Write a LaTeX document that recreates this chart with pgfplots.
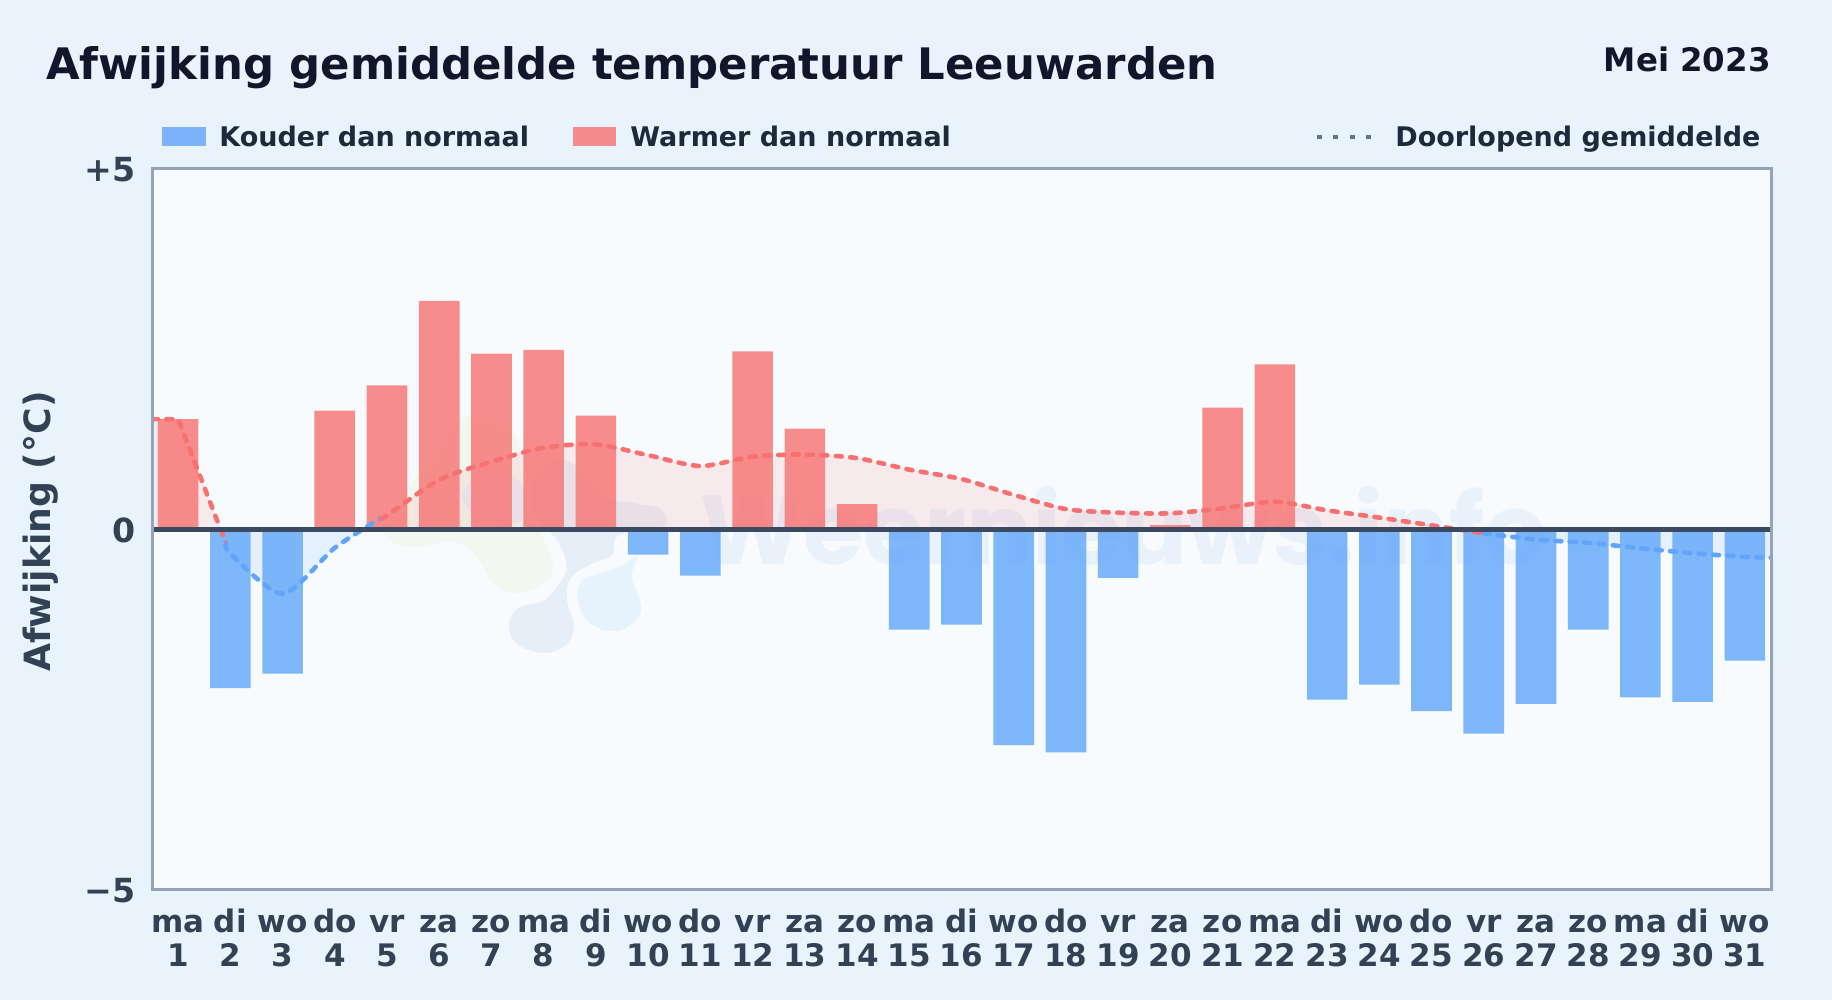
\documentclass[border=0pt]{standalone}
\usepackage{fontspec}
\setmainfont{DejaVu Sans}
\newfontfamily\wmfont{Poppins}
\usepackage{pgfplots}
\pgfplotsset{compat=1.18}

\definecolor{pagebg}{HTML}{E8F3FC}
\definecolor{plotbg}{HTML}{F7FBFE}
\definecolor{frame}{HTML}{94A3B8}
\definecolor{titlecol}{HTML}{0F172A}
\definecolor{legendcol}{HTML}{1E293B}
\definecolor{tickcol}{HTML}{334155}
\definecolor{zerocol}{HTML}{3B4A60}
\definecolor{dotcol}{HTML}{64748B}
\definecolor{coldcol}{HTML}{60A5FA}
\definecolor{warmcol}{HTML}{F87171}
\definecolor{logogrey}{HTML}{E6EFF8}
\definecolor{logoblue}{HTML}{E6F3FD}
\definecolor{logogreen}{HTML}{F2F8F0}
\definecolor{wmcol}{HTML}{E9F2FB}

\newcommand\daglabel[2]{\rule{0pt}{13pt}#1\\#2}

\pgfplotsset{
  runmean/.style={smooth, tension=0.45, line width=2.3pt, dash pattern=on 3pt off 4.2pt, line cap=round},
  meanfill/.style={smooth, tension=0.45, draw=none, fill opacity=0.12},
  dagbar/.style={ybar, bar width=20.3pt, bar shift=0pt, draw=none, fill opacity=0.8},
}

\begin{document}
\begin{tikzpicture}
% pagina en plotvlak, coordinaten in pixels van het origineel
\begin{scope}[x=0.5pt,y=-0.5pt,shift={(0pt,500pt)}]
  \fill[pagebg] (0,0) rectangle (1832,1000);
  \fill[plotbg] (152,169) rectangle (1771,890);
  % logo
  \fill[logogreen] plot[smooth cycle, tension=0.7] coordinates {(463,417)(513,433)(522,480)(535,520)(553,567)(537,587)(513,593)(493,583)(477,557)(453,542)(413,547)(390,540)(385,522)(405,490)(440,450)};
  \fill[logoblue] plot[smooth cycle, tension=0.7] coordinates {(637,557)(632,577)(641,607)(633,623)(613,631)(590,623)(578,600)(583,580)(603,573)(623,565)};
  \filldraw[fill=logogrey, draw=plotbg, line width=3pt] plot[smooth cycle, tension=0.6] coordinates {(570,458)(603,493)(633,500)(663,507)(668,527)(637,533)(618,540)(615,557)(590,568)(573,580)(570,600)(577,627)(567,648)(542,656)(513,645)(506,623)(517,605)(543,597)(563,570)(555,543)(537,523)(527,500)(537,470)};
  \fill[logogrey] plot[smooth cycle, tension=0.7] coordinates {(463,493)(483,475)(513,477)(527,500)(517,523)(483,520)(467,507)};
  % watermerk
  \node[anchor=base west, inner sep=0pt, text=wmcol] at (700,565) {\wmfont\bfseries\fontsize{49}{49}\selectfont Weernieuws.info};
  % titel
  \node[anchor=base west, inner sep=0pt, text=titlecol] at (46,80) {\bfseries\fontsize{21.7}{26}\selectfont Afwijking gemiddelde temperatuur Leeuwarden};
  \node[anchor=base east, inner sep=0pt, text=titlecol] at (1771,72) {\bfseries\fontsize{16.2}{19}\selectfont Mei 2023};
  % legenda
  \fill[coldcol, opacity=0.8] (162,127) rectangle (206,146);
  \node[anchor=base west, inner sep=0pt, text=legendcol] at (219,147) {\bfseries\fontsize{13.5}{16}\selectfont Kouder dan normaal};
  \fill[warmcol, opacity=0.8] (573,127) rectangle (616,146);
  \node[anchor=base west, inner sep=0pt, text=legendcol] at (630,147) {\bfseries\fontsize{13.5}{16}\selectfont Warmer dan normaal};
  \draw[dotcol, line width=1.75pt, dash pattern=on 2.5pt off 5.7pt] (1317,137) -- (1375,137);
  \node[anchor=base west, inner sep=0pt, text=legendcol] at (1395,147) {\bfseries\fontsize{13.5}{16}\selectfont Doorlopend gemiddelde};
\end{scope}

\begin{axis}[
  at={(76pt,55pt)}, anchor=south west,
  scale only axis,
  width=809.5pt, height=360.5pt,
  xmin=0.5, xmax=31.5,
  ymin=-5, ymax=5,
  xtick={1,...,31},
  xticklabels={{\daglabel{ma}{1}},{\daglabel{di}{2}},{\daglabel{wo}{3}},{\daglabel{do}{4}},{\daglabel{vr}{5}},{\daglabel{za}{6}},{\daglabel{zo}{7}},{\daglabel{ma}{8}},{\daglabel{di}{9}},{\daglabel{wo}{10}},{\daglabel{do}{11}},{\daglabel{vr}{12}},{\daglabel{za}{13}},{\daglabel{zo}{14}},{\daglabel{ma}{15}},{\daglabel{di}{16}},{\daglabel{wo}{17}},{\daglabel{do}{18}},{\daglabel{vr}{19}},{\daglabel{za}{20}},{\daglabel{zo}{21}},{\daglabel{ma}{22}},{\daglabel{di}{23}},{\daglabel{wo}{24}},{\daglabel{do}{25}},{\daglabel{vr}{26}},{\daglabel{za}{27}},{\daglabel{zo}{28}},{\daglabel{ma}{29}},{\daglabel{di}{30}},{\daglabel{wo}{31}}},
  ytick={-5,0,5},
  yticklabels={−5,0,+5},
  major tick length=0pt,
  axis line style={draw=none},
  xticklabel style={align=center, text=tickcol, font=\bfseries\fontsize{15.5}{17}\selectfont, yshift=-4.5pt, inner xsep=0pt},
  yticklabel style={text=tickcol, font=\bfseries\fontsize{16.6}{18}\selectfont, xshift=-4.85pt, yshift=-0.5pt},
  ylabel={Afwijking (°C)},
  every axis y label/.style={at={(axis description cs:-0.0690,0.497)}, rotate=90, anchor=center, text=tickcol, font=\bfseries\fontsize{18.1}{20}\selectfont},
  clip=true,
]
% vlak tussen gemiddelde en nullijn
\addplot[meanfill, sharp plot, fill=warmcol] coordinates {(0.5,1.53)(1,1.53)(1.81,0)} \closedcycle;
\addplot[meanfill, fill=coldcol] coordinates {(1.81,0)(2,-0.335)(3,-0.89)(4,-0.255)(4.62,0)} \closedcycle;
\addplot[meanfill, fill=warmcol] coordinates {(4.62,0)(5,0.196)(6,0.69)(7,0.94)(8,1.135)(9,1.18)(10,1.03)(11,0.88)(12,1.01)(13,1.04)(14,0.99)(15,0.83)(16,0.70)(17,0.48)(18,0.283)(19,0.233)(20,0.2245)(21,0.294)(22,0.385)(23,0.266)(24,0.165)(25,0.058)(25.52,0)} \closedcycle;
\addplot[meanfill, fill=coldcol] coordinates {(25.52,0)(26,-0.053)(27,-0.141)(28,-0.186)(29,-0.26)(30,-0.33)(31,-0.379)(31.5,-0.39)} \closedcycle;

% kouder dan normaal
\addplot[dagbar, fill=coldcol] coordinates {
  (2,-2.20)(3,-2.00)(10,-0.35)(11,-0.64)(15,-1.39)(16,-1.32)(17,-2.99)(18,-3.09)(19,-0.67)
  (23,-2.36)(24,-2.15)(25,-2.52)(26,-2.83)(27,-2.42)(28,-1.39)(29,-2.33)(30,-2.39)(31,-1.82)};
% warmer dan normaal
\addplot[dagbar, fill=warmcol] coordinates {
  (1,1.53)(4,1.65)(5,2.00)(6,3.17)(7,2.44)(8,2.49)(9,1.58)(12,2.47)(13,1.40)(14,0.35)(20,0.06)(21,1.69)(22,2.29)};

% doorlopend gemiddelde
\addplot[runmean, sharp plot, warmcol] coordinates {(0.5,1.53)(1,1.53)(1.92,-0.2)};
\addplot[runmean, coldcol] coordinates {(1.92,-0.2)(2,-0.335)(3,-0.89)(4,-0.255)(4.89,0.16)};
\addplot[runmean, warmcol] coordinates {(4.89,0.16)(5,0.196)(6,0.69)(7,0.94)(8,1.135)(9,1.18)(10,1.03)(11,0.88)(12,1.01)(13,1.04)(14,0.99)(15,0.83)(16,0.70)(17,0.48)(18,0.283)(19,0.233)(20,0.2245)(21,0.294)(22,0.385)(23,0.266)(24,0.165)(25,0.058)(26,-0.053)};
\addplot[runmean, coldcol] coordinates {(26,-0.053)(27,-0.141)(28,-0.186)(29,-0.26)(30,-0.33)(31,-0.379)(31.5,-0.39)};

% nullijn
\addplot[zerocol, line width=2.4pt] coordinates {(0.5,0)(31.5,0)};
\end{axis}

% rand van het plotvlak
\begin{scope}[x=0.5pt,y=-0.5pt,shift={(0pt,500pt)}]
  \draw[frame, line width=1.5pt] (152,169) rectangle (1771,890);
\end{scope}
\end{tikzpicture}
\end{document}
